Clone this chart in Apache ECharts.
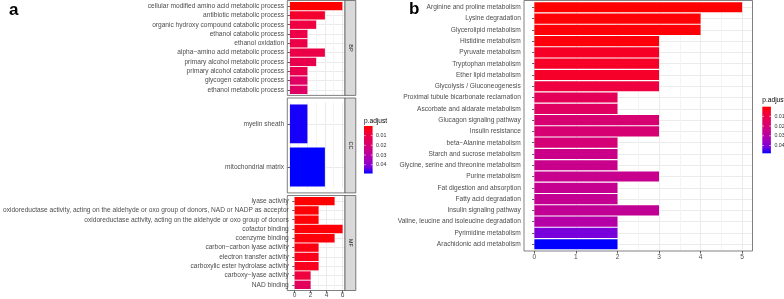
<!DOCTYPE html>
<html><head><meta charset="utf-8">
<script src="https://cdn.jsdelivr.net/npm/echarts@6/dist/echarts.min.js"></script>
<style>html,body{margin:0;padding:0;background:#fff}#c{width:784px;height:299px}</style>
</head><body><div id="c"></div>
<script>
// ---------------- data ----------------
const bpTerms = ['cellular modified amino acid metabolic process','antibiotic metabolic process','organic hydroxy compound catabolic process','ethanol catabolic process','ethanol oxidation','alpha\u2212amino acid metabolic process','primary alcohol metabolic process','primary alcohol catabolic process','glycogen catabolic process','ethanol metabolic process'];
const bpCounts = [6,4,3,2,2,4,3,2,2,2];
const bpPadj = [0.0001,0.0060,0.0095,0.0105,0.0106,0.0108,0.0118,0.0122,0.0160,0.0165];

const ccTerms = ['myelin sheath','mitochondrial matrix'];
const ccCounts = [2,4];
const ccPadj = [0.0478,0.0490];

const mfTerms = ['lyase activity','oxidoreductase activity, acting on the aldehyde or oxo group of donors, NAD or NADP as acceptor','oxidoreductase activity, acting on the aldehyde or oxo group of donors','cofactor binding','coenzyme binding','carbon\u2212carbon lyase activity','electron transfer activity','carboxylic ester hydrolase activity','carboxy\u2212lyase activity','NAD binding'];
const mfCounts = [5,3,3,6,5,3,3,3,2,2];
const mfPadj = [0.0002,0.0007,0.0008,0.0010,0.0013,0.0025,0.0035,0.0038,0.0090,0.0150];

const keggTerms = ['Arginine and proline metabolism','Lysine degradation','Glycerolipid metabolism','Histidine metabolism','Pyruvate metabolism','Tryptophan metabolism','Ether lipid metabolism','Glycolysis / Gluconeogenesis','Proximal tubule bicarbonate reclamation','Ascorbate and aldarate metabolism','Glucagon signaling pathway','Insulin resistance','beta\u2212Alanine metabolism','Starch and sucrose metabolism','Glycine, serine and threonine metabolism','Purine metabolism','Fat digestion and absorption','Fatty acid degradation','Insulin signaling pathway','Valine, leucine and isoleucine degradation','Pyrimidine metabolism','Arachidonic acid metabolism'];
const keggCounts = [5,4,4,3,3,3,3,3,2,2,3,3,2,2,2,3,2,2,3,2,2,2];
const keggPadj = [0.0001,0.0008,0.0011,0.0014,0.0048,0.0050,0.0052,0.0087,0.0135,0.0158,0.0190,0.0195,0.0200,0.0240,0.0245,0.0250,0.0255,0.0260,0.0265,0.0300,0.0410,0.0480];

const legendTicks = [0.01,0.02,0.03,0.04];
const xTicksA = [0,2,4,6];
const xTicksB = [0,1,2,3,4,5];

// ---------------- styles / layout ----------------
const FONT = 'Liberation Sans, Arial, sans-serif';
const gradColors = ['#ff0000','#f40031','#e80050','#da006c','#ca0089','#b500a5','#9a00c3','#7300e0','#0000ff'];
const GRID_MAJOR = '#ebebeb', GRID_MINOR = '#f4f4f4', BORDER = '#4a4a4a';

const panels = [
  {terms: bpTerms, counts: bpCounts, padj: bpPadj, x0: 287.3, x1: 345, y0: 0.5, y1: 95.4, pad: 0.3, max: 6.3, major: 2, ticks: xTicksA, showX: false, strip: 'BP', vm: 0},
  {terms: ccTerms, counts: ccCounts, padj: ccPadj, x0: 287.3, x1: 345, y0: 98, y1: 192.9, pad: 0.3, max: 6.3, major: 2, ticks: xTicksA, showX: false, strip: 'CC', vm: 0},
  {terms: mfTerms, counts: mfCounts, padj: mfPadj, x0: 287.3, x1: 345, y0: 195.5, y1: 290.5, pad: 0.3, max: 6.3, major: 2, ticks: xTicksA, showX: true, strip: 'MF', vm: 0},
  {terms: keggTerms, counts: keggCounts, padj: keggPadj, x0: 524, x1: 752.5, y0: 0.5, y1: 251, pad: 0.25, max: 5.25, major: 1, ticks: xTicksB, showX: true, strip: null, vm: 1}
];

const grids = [], xAxes = [], yAxes = [], series = [], graphics = [];
panels.forEach((p, i) => {
  const n = p.terms.length;
  const band = (p.y1 - p.y0) / (n + 0.2);
  const unit = (p.x1 - p.x0) / (p.max + p.pad);
  const gl = p.x0 + p.pad * unit;
  const gt = p.y0 + 0.1 * band;
  grids.push({left: gl, top: gt, width: p.max * unit, height: n * band, containLabel: false});
  // main value axis (bars, labels, ticks)
  xAxes.push({
    type: 'value', gridIndex: i, min: 0, max: p.max, interval: p.major,
    offset: 0.1 * band,
    axisLine: {show: false},
    axisTick: {show: p.showX, length: 2.5, customValues: p.ticks, lineStyle: {color: '#333', width: 0.8}},
    axisLabel: {show: p.showX, customValues: p.ticks, color: '#4d4d4d', fontSize: 6.6, fontFamily: FONT, margin: p.vm ? 2.4 : 1.6},
    splitLine: {show: false}
  });
  // helper axis for major+minor grid lines
  xAxes.push({
    type: 'value', gridIndex: i, min: 0, max: p.max, interval: p.major / 2,
    axisLine: {show: false}, axisTick: {show: false}, axisLabel: {show: false},
    splitLine: {show: true, lineStyle: {color: [GRID_MAJOR, GRID_MINOR], width: 1}}
  });
  yAxes.push({
    type: 'category', gridIndex: i, inverse: true, data: p.terms,
    offset: p.pad * unit,
    axisLine: {show: false},
    axisTick: {show: true, alignWithLabel: true, length: 2.3, lineStyle: {color: '#333', width: 0.8}},
    axisLabel: {color: '#4d4d4d', fontSize: 6.6, fontFamily: FONT, margin: 3.2, interval: 0},
    splitLine: {show: true, alignWithLabel: true, lineStyle: {color: GRID_MAJOR, width: 1}}
  });
  series.push({
    type: 'bar', xAxisIndex: 2 * i, yAxisIndex: i,
    data: p.terms.map((t, k) => [p.counts[k], t, p.padj[k]]),
    encode: {x: 0, y: 1},
    barCategoryGap: '10%', z: 3
  });
  graphics.push({type: 'rect', z: 100, shape: {x: p.x0, y: p.y0, width: p.x1 - p.x0, height: p.y1 - p.y0},
    style: {fill: 'none', stroke: BORDER, lineWidth: 0.7}});
  if (p.strip) {
    graphics.push({type: 'rect', z: 100, shape: {x: p.x1, y: p.y0, width: 10.8, height: p.y1 - p.y0},
      style: {fill: '#d9d9d9', stroke: BORDER, lineWidth: 0.7}});
    graphics.push({type: 'text', z: 101, x: p.x1 + 5.4, y: (p.y0 + p.y1) / 2, rotation: -Math.PI / 2,
      style: {text: p.strip, fill: '#1a1a1a', font: '5.4px ' + FONT, align: 'center', verticalAlign: 'middle', textAlign: 'center', textVerticalAlign: 'middle'}});
  }
});

const aAll = bpPadj.concat(ccPadj, mfPadj);
const vmRanges = [[Math.min(...aAll), Math.max(...aAll)], [Math.min(...keggPadj), Math.max(...keggPadj)]];

function colorbar(x, y, w, h, range, titleY) {
  const stops = gradColors.map((c, k) => ({offset: k / (gradColors.length - 1), color: c}));
  graphics.push({type: 'text', z: 101, x: x, y: titleY,
    style: {text: 'p.adjust', fill: '#000', font: '6.6px ' + FONT, align: 'left', verticalAlign: 'middle', textAlign: 'left', textVerticalAlign: 'middle'}});
  graphics.push({type: 'rect', z: 100, shape: {x: x, y: y, width: w, height: h},
    style: {fill: {type: 'linear', x: 0, y: 0, x2: 0, y2: 1, colorStops: stops}}});
  legendTicks.forEach(v => {
    const ty = y + (v - range[0]) / (range[1] - range[0]) * h;
    graphics.push({type: 'line', z: 101, shape: {x1: x, y1: ty, x2: x + w / 5, y2: ty}, style: {stroke: '#fff', lineWidth: 0.6}});
    graphics.push({type: 'line', z: 101, shape: {x1: x + w - w / 5, y1: ty, x2: x + w, y2: ty}, style: {stroke: '#fff', lineWidth: 0.6}});
    graphics.push({type: 'text', z: 101, x: x + w + 3.5, y: ty,
      style: {text: v.toFixed(2), fill: '#333', font: '5.3px ' + FONT, align: 'left', verticalAlign: 'middle', textAlign: 'left', textVerticalAlign: 'middle'}});
  });
}
colorbar(364, 126, 8.6, 47.5, vmRanges[0], 121);
colorbar(762.3, 106.7, 8.6, 46.6, vmRanges[1], 100.5);

graphics.push({type: 'text', z: 101, x: 9, y: 2, style: {text: 'a', fill: '#000', font: 'bold 17px ' + FONT}});
graphics.push({type: 'text', z: 101, x: 409, y: 1, style: {text: 'b', fill: '#000', font: 'bold 17px ' + FONT}});

const chart = echarts.init(document.getElementById('c'), null, {renderer: 'canvas'});
chart.setOption({
  animation: false,
  backgroundColor: '#fff',
  grid: grids, xAxis: xAxes, yAxis: yAxes, series: series,
  visualMap: [
    {type: 'continuous', show: false, seriesIndex: [0, 1, 2], dimension: 2, min: vmRanges[0][0], max: vmRanges[0][1], inRange: {color: gradColors}},
    {type: 'continuous', show: false, seriesIndex: [3], dimension: 2, min: vmRanges[1][0], max: vmRanges[1][1], inRange: {color: gradColors}}
  ],
  graphic: graphics
});
</script></body></html>
